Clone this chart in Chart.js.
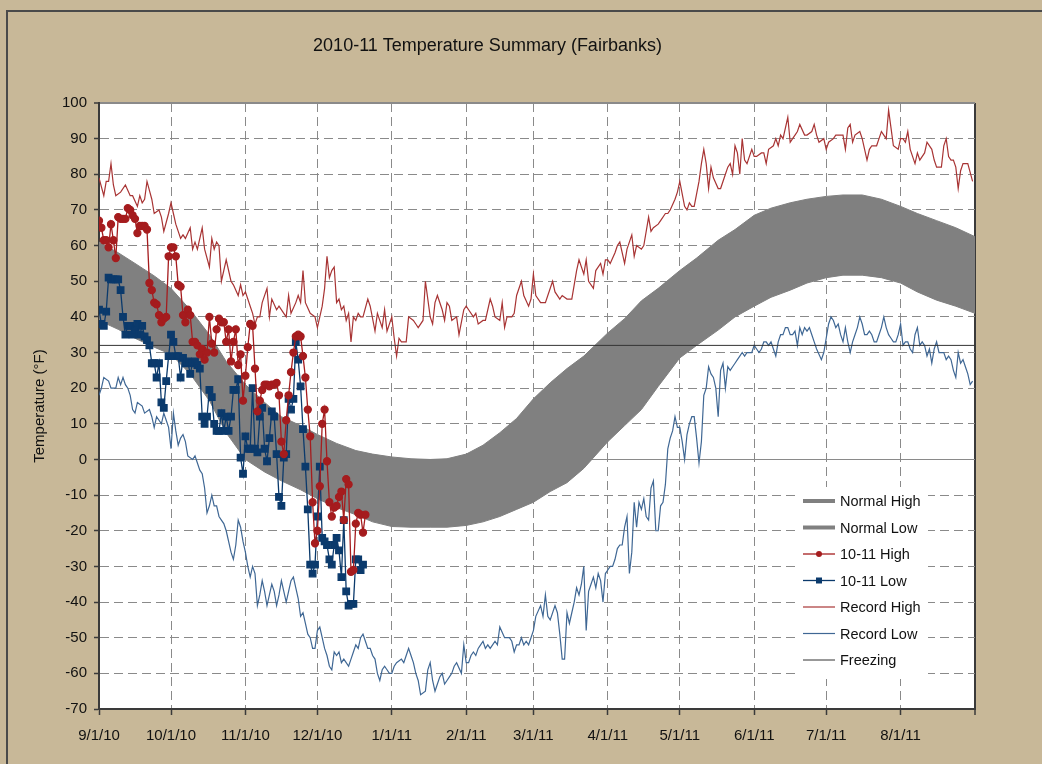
<!DOCTYPE html>
<html>
<head>
<meta charset="utf-8">
<title>2010-11 Temperature Summary (Fairbanks)</title>
<script src="https://cdn.jsdelivr.net/npm/chart.js@4.4.1/dist/chart.umd.min.js"></script>
<style>
  html, body { margin: 0; padding: 0; background: #c8b898; overflow: hidden; }
  #frame { position: absolute; left: 6px; top: 10px; width: 1100px; height: 800px;
           border-top: 2px solid #4a4a4a; border-left: 2px solid #4a4a4a; }
  #chart { position: absolute; left: 0; top: 0; }
</style>
</head>
<body>
<div id="frame"></div>
<canvas id="chart" width="1042" height="764"></canvas>
<script>
// x axis = days since 9/1/10
var monthDays = [0, 30, 61, 91, 122, 153, 181, 212, 242, 273, 303, 334, 365];
var monthLabels = ['9/1/10', '10/1/10', '11/1/10', '12/1/10', '1/1/11', '2/1/11', '3/1/11',
                   '4/1/11', '5/1/11', '6/1/11', '7/1/11', '8/1/11', ''];

// normals
var normalDay  = [0, 8, 15, 23, 30, 38, 46, 53, 61, 69, 76, 84, 91, 99, 107, 114, 122, 130, 138, 145,
                  153, 160, 167, 174, 181, 188, 195, 202, 212, 219, 226, 233, 242, 249, 258, 265, 273,
                  280, 288, 295, 303, 310, 318, 326, 334, 341, 349, 357, 365];
var normalHigh = [61, 58, 55, 51.5, 48, 42, 35, 27.5, 21, 16, 12, 9.5, 7, 4.5, 2.5, 1.5, 0.7, 0.2, 0, 0.2,
                  1.5, 4, 7.5, 11.5, 17, 21.5, 25.5, 29, 35.5, 39.5, 44.5, 48, 53, 56.5, 61.5, 64.5, 68.5,
                  70.5, 72, 73, 73.8, 74.2, 74.2, 73, 71, 69, 67, 65, 62.5];
var normalLow  = [39, 36.5, 34, 31.5, 29.5, 24, 16.5, 7.5, 0, -3.5, -6, -8.5, -11, -13.5, -15.5, -17.5, -18.8, -19, -19, -19,
                  -18.5, -17.5, -16, -14, -12, -9, -6.5, -2.5, 5, 9.5, 14, 20.5, 28.5, 32, 36.3, 40, 43,
                  45.5, 47.5, 49.5, 51, 51.7, 51.7, 51, 49.5, 47, 44.7, 43, 41];

// 2010-11 observed, one value per day from 9/1/10
var seasonHigh = [67, 65, 61.5, 61.5, 59.5, 66, 61.5, 56.5, 68, 67.5, 67.5, 67.5, 70.5, 70, 68.5, 67.5, 63.5, 65.5, 65.5, 65.5,
                  64.5, 49.5, 47.5, 44, 43.5, 40.5, 38.5, 39.5, 40, 57, 59.5, 59.5, 57, 49, 48.5, 40.5, 38.5, 42, 40.5, 33,
                  33, 32, 29.5, 31, 28, 30, 40, 32.5, 30, 36.5, 39.5, 38.5, 38.5, 33, 36.5, 27.5, 33, 36.5, 26.5, 29.5,
                  16.5, 23.5, 31.5, 38, 37.5, 25.5, 13.5, 16.5, 19.5, 21, 21, 20.5, 21, 21, 21.5, 18, 5, 1.5, 11, 18,
                  24.5, 30, 34.5, 35, 34.5, 29, 23, 14, 6.5, -12, -23.5, -20, -7.5, 10, 14, -0.5, -12, -16, -13.5, -13,
                  -10.5, -9, -17, -5.5, -7, -31.5, -31, -18, -15, -15.5, -20.5, -15.5];
var seasonLow  = [42, 38, 37.5, 41.5, 51, 50.5, 50.5, 50.5, 50.5, 47.5, 40, 35, 37.5, 37.5, 35, 36.5, 38, 35, 37.5, 34.5,
                  33.5, 32, 27, 27, 23, 27, 16, 14.5, 22, 29, 35, 33, 29, 29, 23, 28.5, 27, 27.5, 24, 27,
                  27.5, 26.5, 25.5, 12, 10, 12, 19.5, 17.5, 10, 8, 8, 13, 8, 12, 8, 12, 19.5, 19.5, 22.5, 0.5,
                  -4, 6.5, 3, 3, 20, 3, 2, 12, 14.5, 3, -0.5, 6, 13.5, 12, 1.5, -10.5, -13, 0.5, 1.5, 17,
                  14, 17, 33, 28, 20.5, 8.5, -2, -14, -29.5, -32, -29.5, -16, -2, -22, -23, -24, -28, -29.5, -24, -22,
                  -25.5, -33, -17, -37, -41, -40.5, -40.5, -28, -28, -31, -29.5];

// daily records (turning points)
var recordHighDay = [0, 2, 3, 4, 5, 6, 7, 9, 11, 13, 14, 16, 17, 18, 19, 20, 22, 23, 25, 26,
                     27, 29, 30, 31, 32, 34, 35, 36, 38, 39, 40, 41, 43, 44, 46, 47, 48, 49, 50, 51,
                     53, 55, 56, 58, 59, 60, 61, 63, 64, 65, 66, 67, 68, 70, 71, 72, 74, 75, 77, 78,
                     79, 80, 82, 83, 84, 85, 86, 88, 90, 91, 93, 94, 95, 96, 97, 98, 99, 100, 101, 102,
                     103, 104, 105, 106, 107, 108, 109, 110, 112, 113, 115, 116, 118, 119, 120, 122, 123, 124, 125, 126,
                     127, 128, 129, 131, 132, 133, 135, 136, 138, 139, 140, 141, 143, 144, 145, 146, 147, 149, 150, 152,
                     153, 154, 156, 157, 158, 160, 161, 163, 164, 165, 167, 168, 169, 170, 172, 173, 174, 176, 177, 179,
                     180, 181, 182, 184, 186, 187, 189, 190, 192, 193, 195, 197, 199, 200, 202, 203, 204, 206, 207, 209,
                     210, 211, 212, 213, 215, 216, 217, 219, 220, 222, 223, 224, 226, 227, 229, 230, 231, 233, 234, 236,
                     237, 238, 240, 241, 242, 244, 245, 246, 247, 248, 250, 251, 252, 253, 254, 255, 256, 258, 259, 261,
                     262, 263, 264, 265, 266, 267, 268, 269, 270, 272, 273, 274, 276, 277, 278, 279, 281, 282, 283, 284,
                     285, 287, 288, 289, 290, 291, 292, 294, 295, 297, 298, 299, 300, 302, 303, 304, 306, 307, 308, 310,
                     311, 312, 313, 314, 315, 317, 318, 320, 321, 322, 324, 325, 326, 327, 328, 329, 330, 331, 333, 334,
                     335, 336, 337, 338, 340, 341, 342, 344, 345, 347, 348, 349, 351, 352, 353, 354, 355, 356, 357, 358,
                     359, 360, 361, 362, 364];
var recordHigh    = [79, 74, 78, 78, 83, 77, 74, 75, 77, 74, 74, 71, 74, 72, 73, 78, 73, 69, 70, 68,
                     64, 69, 72, 69, 66, 62, 63, 62, 65, 59, 61, 59, 65, 59, 54, 62, 59, 61, 60, 50,
                     56, 50, 49, 46, 49, 46, 47, 43, 41, 38, 40, 40, 44, 48, 40, 45, 42, 43, 41, 40,
                     46, 41, 44, 46, 44, 53, 44, 41, 40, 37, 43, 48, 57, 51, 53, 54, 44, 45, 42, 43,
                     39, 41, 33, 40, 39, 41, 40, 40, 45, 43, 36, 41, 37, 42, 36, 40, 34, 29, 34, 33,
                     33, 33, 40, 39, 38, 37, 39, 50, 40, 38, 44, 46, 42, 39, 44, 43, 39, 40, 35, 42,
                     43, 42, 40, 41, 38, 39, 39, 45, 43, 40, 39, 44, 37, 40, 40, 41, 46, 50, 46, 43,
                     45, 52, 46, 44, 44, 46, 50, 47, 45, 46, 45, 45, 53, 56, 52, 56, 50, 48, 53, 55,
                     52, 56, 56, 55, 58, 60, 61, 55, 59, 63, 57, 60, 59, 60, 68, 64, 65, 66, 67, 69,
                     69, 70, 73, 75, 78, 71, 70, 72, 71, 71, 78, 83, 87, 83, 76, 82, 79, 76, 76, 80,
                     82, 83, 80, 88, 86, 80, 90, 84, 83, 87, 85, 85, 86, 86, 83, 87, 88, 90, 88, 91,
                     90, 96, 89, 90, 91, 92, 94, 91, 91, 92, 94, 91, 89, 90, 87, 89, 90, 91, 91, 91,
                     87, 93, 94, 89, 91, 92, 90, 84, 87, 88, 88, 90, 92, 91, 90, 98, 93, 88, 87, 90,
                     90, 89, 92, 87, 83, 86, 84, 86, 89, 87, 84, 82, 82, 88, 90, 85, 84, 84, 82, 76,
                     81, 83, 83, 83, 78];

var recordLowDay = [0, 1, 2, 4, 5, 7, 8, 9, 10, 11, 12, 13, 14, 15, 16, 18, 19, 21, 22, 23,
                    24, 25, 26, 27, 28, 29, 30, 31, 32, 33, 34, 35, 36, 37, 39, 40, 41, 42, 43, 44,
                    45, 46, 47, 48, 49, 50, 51, 52, 53, 54, 55, 56, 57, 58, 59, 60, 61, 62, 63, 64,
                    65, 66, 67, 68, 69, 70, 71, 72, 73, 74, 75, 76, 77, 78, 79, 80, 81, 82, 83, 84,
                    85, 86, 87, 88, 89, 90, 91, 92, 93, 94, 95, 96, 97, 98, 99, 100, 101, 102, 103, 104,
                    105, 106, 107, 108, 109, 110, 111, 112, 113, 114, 115, 116, 117, 118, 119, 120, 121, 122, 123, 124,
                    126, 127, 128, 129, 130, 131, 132, 133, 134, 136, 137, 138, 139, 140, 141, 142, 143, 144, 145, 146,
                    147, 148, 149, 151, 152, 153, 154, 155, 156, 157, 158, 159, 160, 161, 162, 163, 164, 165, 166, 167,
                    169, 170, 171, 172, 173, 174, 175, 176, 177, 178, 179, 180, 181, 182, 184, 185, 186, 187, 188, 190,
                    191, 192, 193, 194, 195, 196, 197, 198, 199, 200, 201, 202, 203, 204, 205, 206, 207, 208, 209, 210,
                    211, 212, 213, 214, 215, 216, 217, 218, 219, 220, 221, 222, 223, 224, 225, 226, 227, 228, 229, 230,
                    231, 232, 233, 234, 235, 236, 237, 238, 239, 240, 241, 242, 243, 244, 245, 246, 247, 248, 249, 250,
                    251, 252, 253, 254, 255, 256, 257, 258, 259, 260, 261, 262, 263, 264, 265, 266, 267, 268, 269, 270,
                    271, 272, 273, 274, 275, 276, 277, 278, 279, 280, 281, 282, 283, 284, 285, 286, 287, 288, 289, 290,
                    291, 292, 293, 294, 295, 296, 297, 298, 299, 301, 302, 303, 304, 305, 306, 307, 308, 309, 310, 311,
                    312, 313, 314, 315, 316, 317, 318, 319, 320, 321, 322, 323, 324, 325, 326, 327, 328, 329, 330, 331,
                    332, 333, 334, 335, 336, 337, 338, 339, 340, 341, 342, 343, 344, 345, 346, 347, 348, 349, 350, 351,
                    352, 353, 354, 355, 356, 357, 358, 359, 360, 361, 362, 363, 364];
var recordLow    = [18, 20, 23, 22, 20, 20, 23, 21, 23, 21, 20, 18, 14, 13, 16, 15, 13, 14, 12, 9,
                    12, 11, 10, 13, 11, 9, 3, 13, 8, 4, 6, 7, 5, 1, 0, 1, -1, -3, -4, -8,
                    -15, -13, -10, -13, -13, -16, -17, -18, -20, -23, -26, -28, -24, -17, -19, -23, -26, -30, -33, -30,
                    -32, -41, -38, -34, -37, -41, -38, -35, -37, -41, -38, -34, -37, -40, -37, -34, -33, -36, -39, -44,
                    -43, -46, -49, -50, -53, -53, -48, -47, -50, -53, -55, -58, -59, -54, -55, -54, -57, -56, -57, -58,
                    -56, -54, -52, -53, -50, -49, -51, -53, -53, -55, -56, -60, -62, -59, -58, -59, -60, -60, -58, -57,
                    -56, -57, -55, -53, -55, -57, -60, -62, -66, -65, -59, -57, -62, -65, -63, -61, -60, -63, -62, -61,
                    -60, -58, -57, -60, -52, -57, -57, -55, -54, -55, -53, -52, -51, -53, -52, -53, -52, -51, -52, -47,
                    -50, -50, -50, -51, -54, -52, -52, -50, -52, -51, -52, -50, -48, -44, -41, -44, -38, -44, -45, -41,
                    -43, -49, -56, -56, -43, -46, -43, -40, -36, -38, -35, -30, -48, -37, -35, -33, -36, -32, -34, -40,
                    -32, -31, -30, -30, -28, -25, -24, -24, -19, -16, -32, -26, -12, -19, -12, -14, -11, -16, -17, -8,
                    -6, -20, -20, -13, -12, -7, 3, 6, 8, 12, 9, 9, 5, 0, 7, 10, 12, 12, 6, -1,
                    5, 18, 20, 26, 24, 23, 20, 12, 25, 27, 20, 26, 25, 26, 27, 28, 29, 30, 29, 30,
                    30, 30, 32, 31, 30, 31, 33, 33, 32, 33, 31, 29, 33, 35, 35, 37, 37, 35, 35, 36,
                    32, 37, 35, 37, 36, 37, 35, 33, 31, 28, 30, 34, 38, 40, 39, 37, 38, 35, 33, 37,
                    33, 30, 33, 35, 37, 40, 38, 35, 35, 36, 35, 33, 33, 35, 37, 40, 37, 35, 34, 33,
                    33, 35, 38, 32, 33, 33, 31, 30, 35, 37, 32, 33, 32, 29, 31, 27, 31, 33, 30, 30,
                    30, 28, 29, 28, 25, 23, 30, 27, 28, 26, 24, 21, 22];

var freezingTemp = 32;

// ---- fonts: the original uses a narrow sans
function hasFont(name) {
  var c = document.createElement('canvas').getContext('2d');
  var s = 'abcdefghijklmnop0123456789';
  c.font = '40px monospace';
  var a = c.measureText(s).width;
  c.font = '40px "' + name + '", monospace';
  return c.measureText(s).width !== a;
}
var narrow = hasFont('Liberation Sans Narrow');
var FAMILY = narrow ? '"Liberation Sans Narrow", "Liberation Sans", Arial, sans-serif'
                    : '"Liberation Sans", Arial, sans-serif';
var FS = narrow ? { title: 21, tick: 18, axis: 17, legend: 17 }
                : { title: 18, tick: 15, axis: 15, legend: 14.5 };

var GRID = '#8a8a8a';
var AXIS = '#3a3a3a';

function pts(days, vals) {
  return vals.map(function (v, i) { return { x: days[i], y: v }; });
}
function daily(vals) {
  return vals.map(function (v, i) { return { x: i, y: v }; });
}

// white plot area
var plotBg = {
  id: 'plotBg',
  beforeDraw: function (chart) {
    var a = chart.chartArea, ctx = chart.ctx;
    ctx.save();
    ctx.fillStyle = '#ffffff';
    ctx.fillRect(a.left, a.top, a.right - a.left, a.bottom - a.top);
    ctx.restore();
  }
};

// legend inside the plot, lower right
var plotLegend = {
  id: 'plotLegend',
  afterDatasetsDraw: function (chart) {
    var a = chart.chartArea, ctx = chart.ctx;
    var x0 = a.right - 178, y0 = a.bottom - 222;
    ctx.save();
    ctx.fillStyle = '#ffffff';
    ctx.fillRect(x0, y0, 131, 192);
    ctx.font = FS.legend + 'px ' + FAMILY;
    ctx.textBaseline = 'middle';
    chart.data.datasets.forEach(function (ds, i) {
      var y = y0 + 14 + i * 26.5;
      ctx.strokeStyle = ds.borderColor;
      ctx.lineWidth = ds.legendWidth || ds.borderWidth;
      ctx.beginPath();
      ctx.moveTo(x0 + 6, y);
      ctx.lineTo(x0 + 38, y);
      ctx.stroke();
      if (ds.pointRadius) {
        ctx.fillStyle = ds.pointBackgroundColor;
        if (ds.pointStyle === 'rect') {
          ctx.fillRect(x0 + 19, y - 3, 6, 6);
        } else {
          ctx.beginPath();
          ctx.arc(x0 + 22, y, 3, 0, Math.PI * 2);
          ctx.fill();
        }
      }
      ctx.fillStyle = '#111111';
      ctx.fillText(ds.label, x0 + 43, y + 1);
    });
    ctx.restore();
  }
};

var titleTop = 46 - FS.title * 0.6;
var titleBottom = 103 - titleTop - FS.title * 1.2;

var ctx = document.getElementById('chart').getContext('2d');
var chart = new Chart(ctx, {
  type: 'line',
  data: {
    datasets: [
      { label: 'Normal High', data: pts(normalDay, normalHigh), borderColor: '#808080', backgroundColor: '#808080',
        borderWidth: 1, legendWidth: 4, pointRadius: 0, fill: '+1', order: 10 },
      { label: 'Normal Low', data: pts(normalDay, normalLow), borderColor: '#808080',
        borderWidth: 1, legendWidth: 4, pointRadius: 0, fill: false, order: 10 },
      { label: '10-11 High', data: daily(seasonHigh), borderColor: '#a51c1e', pointBackgroundColor: '#a51c1e',
        pointBorderColor: '#a51c1e', borderWidth: 1.3, pointRadius: 3.5, pointStyle: 'circle', fill: false, order: 1 },
      { label: '10-11 Low', data: daily(seasonLow), borderColor: '#0b3a6c', pointBackgroundColor: '#0b3a6c',
        pointBorderColor: '#0b3a6c', borderWidth: 1.3, pointRadius: 4.6, pointStyle: 'rect', fill: false, order: 2 },
      { label: 'Record High', data: pts(recordHighDay, recordHigh), borderColor: '#a83434',
        borderWidth: 1.2, pointRadius: 0, fill: false, order: 5 },
      { label: 'Record Low', data: pts(recordLowDay, recordLow), borderColor: '#3f6794',
        borderWidth: 1.2, pointRadius: 0, fill: false, order: 5 },
      { label: 'Freezing', data: [{ x: 0, y: freezingTemp }, { x: 365, y: freezingTemp }], borderColor: '#333333',
        borderWidth: 1, pointRadius: 0, fill: false, order: 4 }
    ]
  },
  options: {
    responsive: false,
    animation: false,
    devicePixelRatio: 1,
    events: [],
    layout: { padding: { left: 0, right: 67, top: 0, bottom: 0 } },
    plugins: {
      legend: { display: false },
      tooltip: { enabled: false },
      title: {
        display: true,
        text: '2010-11 Temperature Summary (Fairbanks)',
        color: '#111111',
        font: { family: FAMILY, size: FS.title, weight: 'normal' },
        padding: { top: titleTop, bottom: titleBottom }
      }
    },
    scales: {
      x: {
        type: 'linear',
        min: 0,
        max: 365,
        afterFit: function (s) { s.height = 55; },
        afterBuildTicks: function (s) {
          s.ticks = monthDays.map(function (d) { return { value: d }; });
        },
        ticks: {
          autoSkip: false,
          maxRotation: 0,
          padding: 12,
          color: '#111111',
          font: { family: FAMILY, size: FS.tick },
          callback: function (v) { return monthLabels[monthDays.indexOf(v)]; }
        },
        grid: {
          color: function (c) {
            if (!c.tick) return GRID;
            if (c.tick.value === 0) return 'rgba(0,0,0,0)';
            if (c.tick.value === 365) return AXIS;
            return GRID;
          },
          lineWidth: function (c) { return c.tick && c.tick.value === 365 ? 2 : 1; },
          tickColor: AXIS,
          tickLength: 6,
          tickWidth: 1.5
        },
        border: {
          display: true, color: AXIS, width: 2,
          dash: function (c) { return c.tick && c.tick.value % 365 !== 0 ? [9, 5] : []; }
        }
      },
      y: {
        min: -70,
        max: 100,
        afterFit: function (s) { s.width = 99; },
        ticks: {
          stepSize: 10,
          padding: 7,
          color: '#111111',
          font: { family: FAMILY, size: FS.tick }
        },
        title: {
          display: true,
          text: 'Temperature (°F)',
          color: '#111111',
          font: { family: FAMILY, size: FS.axis },
          padding: { top: 40 - FS.axis * 0.6, bottom: 0 }
        },
        grid: {
          color: GRID,
          lineWidth: function (c) { return c.tick && c.tick.value === 100 ? 2 : 1; },
          tickColor: AXIS,
          tickLength: 5,
          tickWidth: 1.5
        },
        border: {
          display: true, color: AXIS, width: 2,
          dash: function (c) { return c.tick && c.tick.value !== 0 && c.tick.value !== 100 ? [9, 5] : []; }
        }
      }
    }
  },
  plugins: [plotBg, plotLegend]
});
</script>
</body>
</html>
